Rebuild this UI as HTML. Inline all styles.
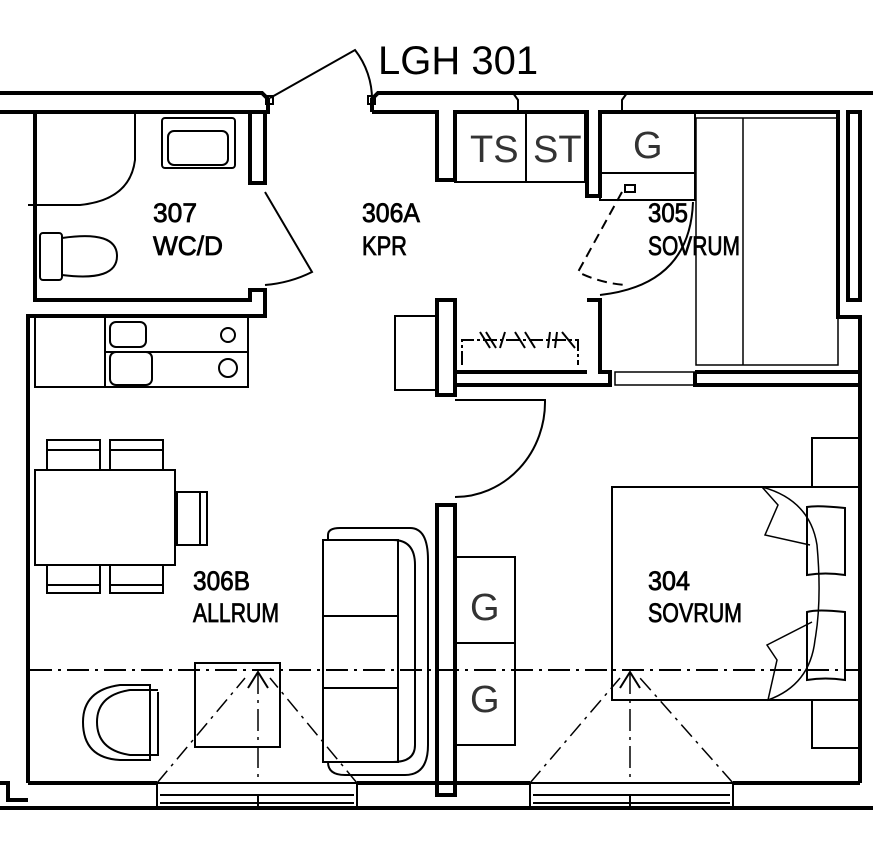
<!DOCTYPE html>
<html><head><meta charset="utf-8"><style>
html,body{margin:0;padding:0;background:#fff;}
svg{display:block}
.t{font-family:"Liberation Sans",sans-serif;font-size:27px;fill:#000;stroke:#000;stroke-width:0.8}
.g{font-family:"Liberation Sans",sans-serif;font-size:38px;fill:#333;stroke:none}
</style></head><body>
<svg width="873" height="845" viewBox="0 0 873 845" xmlns="http://www.w3.org/2000/svg" fill="none" stroke="#000" stroke-width="2">
<text x="378" y="74" font-family="Liberation Sans, sans-serif" font-size="40" fill="#000" stroke="none">LGH 301</text>
<g stroke-width="4">
<path d="M0 93 H262 L268 99 V112 H35"/>
<path d="M0 112 H35"/>
<path d="M372 112 V99 L378 93 H873"/>
<path d="M372 112 H437 V180 H455 V112 H587 V196 H600 V112 H838 V317 H860 V783"/>
<path d="M848 112 H860 V300 H848 Z"/>
<path d="M35 112 V300 H250 V290 H265 V316 H28 V783"/>
<path d="M250 112 H265 V183 H250 Z"/>
<path d="M28 783 H157 M357 783 H530 M733 783 H860"/>
<path d="M0 808 H873"/>
<path d="M0 783 H8 V800 H28"/>
<path d="M437 300 H455 V395 H437 Z"/>
<path d="M587 300 H600 V372 H610 V385 H455"/>
<path d="M455 372 H587"/>
<path d="M695 372 V385 H860 M695 372 H860"/>
<path d="M437 505 H455 V795 H437 Z"/>
</g>
<path d="M513 93 L518 100 V112 M627 93 L622 100 V112" stroke-width="2"/>
<path d="M270 98 L355 50 A80 80 0 0 1 372 100"/>
<rect x="266" y="96" width="7" height="8"/><rect x="368" y="96" width="7" height="8"/>
<path d="M135 112 V160 Q130 200 80 205 H28"/>
<rect x="162" y="118" width="73" height="50" rx="3"/>
<rect x="168" y="131" width="60" height="34" rx="6"/>
<rect x="40" y="233" width="22" height="47" rx="3"/>
<path d="M62 238 Q117 230 117 256 Q117 282 62 275"/>
<path d="M265 192 L312 272 Q290 283 265 285"/>
<text class="t" x="153" y="222" textLength="44" lengthAdjust="spacingAndGlyphs">307</text>
<text class="t" x="153" y="255" textLength="70" lengthAdjust="spacingAndGlyphs">WC/D</text>
<text class="t" x="362" y="222" textLength="58" lengthAdjust="spacingAndGlyphs">306A</text>
<text class="t" x="362" y="255" textLength="45" lengthAdjust="spacingAndGlyphs">KPR</text>
<rect x="35" y="316" width="213" height="71"/>
<path d="M105 316 V387 M105 352 H248"/>
<rect x="110" y="322" width="36" height="25" rx="6"/>
<rect x="110" y="352" width="42" height="33" rx="6"/>
<circle cx="228" cy="335" r="7"/><circle cx="228" cy="368" r="9"/>
<rect x="395" y="316" width="42" height="74"/>
<rect x="455" y="112" width="130" height="70"/>
<path d="M526 112 V182"/>
<text class="g" x="470" y="162">TS</text><text class="g" x="533" y="162">ST</text>
<rect x="600" y="112" width="95" height="61"/>
<rect x="600" y="173" width="95" height="27"/>
<text class="g" x="633" y="158">G</text>
<rect x="696" y="118" width="142" height="247" stroke-width="1.5"/>
<path d="M743 118 V365" stroke-width="1.5"/>
<rect x="625" y="185" width="10" height="7"/>
<path d="M622 192 L578 272 Q600 283 625 285" stroke-dasharray="10,6"/>
<path d="M693 202 Q690 285 600 295"/>
<text class="t" x="648" y="222" textLength="40" lengthAdjust="spacingAndGlyphs">305</text>
<text class="t" x="648" y="255" textLength="92" lengthAdjust="spacingAndGlyphs">SOVRUM</text>
<path d="M462 365 V340 H578 V365" stroke-dasharray="14,3,3,3"/>
<path d="M480 332 L490 348 M486 332 L496 348 M505 332 L500 348 M515 332 L525 348 M525 332 L535 348 M550 332 L548 348 M557 332 L555 348 M562 332 L575 348"/>
<rect x="615" y="372" width="80" height="13" stroke-width="1.5"/>
<path d="M455 400 H545 A90 95 0 0 1 455 497"/>
<rect x="35" y="470" width="140" height="95"/>
<rect x="47" y="440" width="53" height="30"/><path d="M47 450 H100"/>
<rect x="110" y="440" width="53" height="30"/><path d="M110 450 H163"/>
<rect x="47" y="565" width="53" height="28"/><path d="M47 585 H100"/>
<rect x="110" y="565" width="53" height="28"/><path d="M110 585 H163"/>
<rect x="177" y="492" width="30" height="53"/><path d="M200 492 V545"/>
<text class="t" x="193" y="590" textLength="57" lengthAdjust="spacingAndGlyphs">306B</text>
<text class="t" x="193" y="622" textLength="86" lengthAdjust="spacingAndGlyphs">ALLRUM</text>
<path d="M328 540 V535 Q328 528 340 528 H410 Q428 528 428 560 V745 Q428 775 405 775 H345 Q328 775 328 762"/>
<rect x="323" y="540" width="75" height="222"/>
<path d="M393 540 Q415 540 415 565 V745 Q415 762 393 762 M323 616 H398 M323 688 H398"/>
<rect x="195" y="663" width="85" height="84"/>
<path d="M150 685 H120 Q83 690 83 722 Q83 758 120 760 H150 Z"/>
<path d="M158 692 V755 H130 Q97 750 97 722 Q97 695 130 690 H158"/>
<rect x="455" y="557" width="60" height="86"/><rect x="455" y="643" width="60" height="102"/>
<text class="g" x="470" y="620">G</text><text class="g" x="470" y="712">G</text>
<rect x="612" y="487" width="248" height="213"/>
<rect x="812" y="438" width="48" height="49"/><rect x="812" y="700" width="48" height="48"/>
<path d="M807 507 Q817 505 845 508 V575 Q825 572 807 575 Z M807 612 Q817 609 845 612 V680 Q825 677 807 680 Z"/>
<path d="M762 487 Q810 500 817 545 Q822 600 815 640 Q810 685 768 700 L777 660 L767 645 L812 622 M762 487 L778 505 L765 535 L810 545" stroke-width="1.5"/>
<text class="t" x="648" y="590" textLength="42" lengthAdjust="spacingAndGlyphs">304</text>
<text class="t" x="648" y="622" textLength="94" lengthAdjust="spacingAndGlyphs">SOVRUM</text>
<path d="M30 670 H860" stroke-dasharray="22,6,3,6"/>
<path d="M258 672 V783 M630 672 V783" stroke-dasharray="22,6,3,6" stroke-width="1.5"/>
<path d="M157 783 L245 678 M357 783 L270 678 M530 783 L620 678 M733 783 L640 678" stroke-dasharray="16,6,3,6" stroke-width="1.5"/>
<path d="M248 688 L258 672 L268 688 M620 688 L630 672 L640 688"/>
<rect x="157" y="783" width="200" height="25"/><path d="M160 795 H354 M160 803 H354 M258 795 V808"/>
<rect x="530" y="783" width="203" height="25"/><path d="M533 795 H730 M533 803 H730 M630 795 V808"/>
</svg>
</body></html>
